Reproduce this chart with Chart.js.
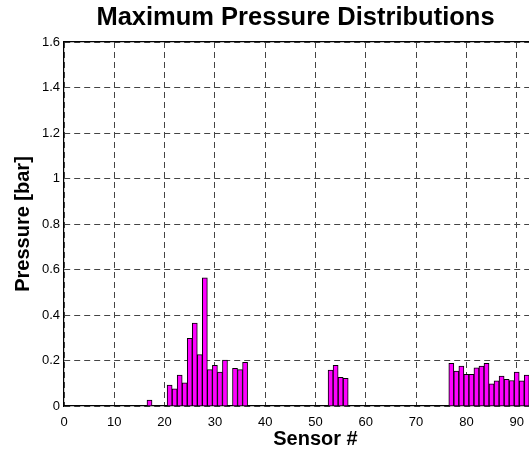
<!DOCTYPE html>
<html>
<head>
<meta charset="utf-8">
<script src="https://cdn.jsdelivr.net/npm/chart.js@4"></script>
<style>
    html, body { margin: 0; padding: 0; background: #fff; overflow: hidden; }
    #wrap { position: relative; width: 591px; height: 452px; }
</style>
</head>
<body>
<div id="wrap"><canvas id="chart" width="591" height="452"></canvas></div>
<script>
// sensor numbers with a recorded peak
const sensors = [17, 21, 22, 23, 24, 25, 26, 27, 28, 29, 30, 31, 32, 34, 35, 36,
    53, 54, 55, 56,
    77, 78, 79, 80, 81, 82, 83, 84, 85, 86, 87, 88, 89, 90, 91, 92];
// maximum pressure per sensor [bar]
const pressures = [0.026, 0.092, 0.075, 0.136, 0.102, 0.298, 0.365, 0.226, 0.563, 0.160, 0.179, 0.149, 0.202, 0.166, 0.160, 0.192,
    0.158, 0.179, 0.126, 0.122,
    0.188, 0.154, 0.176, 0.139, 0.139, 0.168, 0.176, 0.188, 0.098, 0.111, 0.131, 0.117, 0.112, 0.149, 0.111, 0.136];

const xTickValues = [0, 10, 20, 30, 40, 50, 60, 70, 80, 90, 100];
const yTickValues = [0, 0.2, 0.4, 0.6, 0.8, 1, 1.2, 1.4, 1.6];
const yTickLabels = ['0', '0.2', '0.4', '0.6', '0.8', '1', '1.2', '1.4', '1.6'];

const FONT = "Arial, 'Liberation Sans', sans-serif";

let points = [];
for (let i = 0; i < sensors.length; i++) {
    points.push({x: sensors[i], y: pressures[i]});
}

const whiteBg = {
    id: 'whiteBg',
    beforeDraw(chart) {
        const ctx = chart.ctx;
        ctx.save();
        ctx.fillStyle = '#fff';
        ctx.fillRect(0, 0, chart.width, chart.height);
        ctx.restore();
    }
};

new Chart(document.getElementById('chart'), {
    type: 'bar',
    data: {
        datasets: [{
            label: 'Pressure',
            data: points,
            backgroundColor: '#ff00ff',
            borderColor: '#000',
            borderWidth: 1,
            barPercentage: 1,
            categoryPercentage: 1
        }]
    },
    options: {
        responsive: false,
        animation: false,
        devicePixelRatio: 1,
        layout: { padding: 0 },
        plugins: {
            legend: { display: false },
            tooltip: { enabled: false },
            title: {
                display: true,
                text: 'Maximum Pressure Distributions',
                color: '#000',
                font: { family: FONT, size: 25.5, weight: 'bold' },
                padding: { top: 3, bottom: 8.4 }
            }
        },
        scales: {
            x: {
                type: 'linear',
                min: 0,
                max: 100,
                offset: false,
                afterBuildTicks: (scale) => { scale.ticks = xTickValues.map(v => ({value: v})); },
                afterFit: (scale) => { scale.height = 46; },
                ticks: {
                    color: '#000',
                    font: { family: FONT, size: 13 },
                    padding: 9,
                    maxRotation: 0,
                    autoSkip: false
                },
                grid: { color: '#444', lineWidth: 1, drawTicks: false, offset: false },
                border: { display: true, color: '#000', width: 1.2, dash: [6, 4] },
                title: {
                    display: true,
                    text: 'Sensor #',
                    color: '#000',
                    font: { family: FONT, size: 20, weight: 'bold' },
                    padding: { top: 0, bottom: 1 }
                }
            },
            y: {
                min: 0,
                max: 1.6,
                afterBuildTicks: (scale) => { scale.ticks = yTickValues.map(v => ({value: v})); },
                afterFit: (scale) => { scale.width = 64; },
                ticks: {
                    color: '#000',
                    font: { family: FONT, size: 13 },
                    padding: 4,
                    autoSkip: false,
                    callback: (value, index) => yTickLabels[index]
                },
                grid: { color: '#444', lineWidth: 1, drawTicks: false },
                border: { display: true, color: '#000', width: 1.2, dash: [6, 4] },
                title: {
                    display: true,
                    text: 'Pressure [bar]',
                    color: '#000',
                    font: { family: FONT, size: 20, weight: 'bold' },
                    padding: { top: 11.5, bottom: 0 }
                }
            },
            x2: {
                type: 'linear',
                position: 'top',
                min: 0,
                max: 100,
                afterFit: (scale) => { scale.height = 0; },
                ticks: { display: false },
                grid: { display: false, drawTicks: false },
                border: { display: true, color: '#000', width: 1.2 }
            },
            y2: {
                position: 'right',
                min: 0,
                max: 1.6,
                afterFit: (scale) => { scale.width = 24; },
                ticks: { display: false },
                grid: { display: false, drawTicks: false },
                border: { display: true, color: '#000', width: 1.2 }
            }
        }
    },
    plugins: [whiteBg]
});
</script>
</body>
</html>
